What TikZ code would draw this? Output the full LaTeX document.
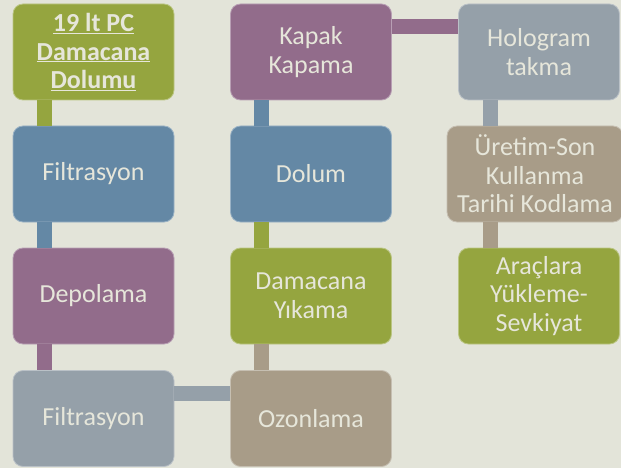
\documentclass[tikz,border=0pt]{standalone}
\usepackage{fontspec}
\setmainfont{Carlito}
\usetikzlibrary{calc}
\definecolor{bg}{HTML}{E3E4D9}
\definecolor{cgreen}{HTML}{95A53F}
\definecolor{cblue}{HTML}{6488A5}
\definecolor{cpurple}{HTML}{926C8B}
\definecolor{cgray}{HTML}{95A0A9}
\definecolor{ctaupe}{HTML}{A89C88}
\definecolor{txt}{HTML}{E6E6DA}
\tikzset{
  box/.style={rectangle, rounded corners=10pt, minimum width=161pt, minimum height=96pt,
    inner sep=2pt, align=center, text=txt, fill=#1, draw=white!35!#1, line width=0.8pt,
    font=\fontsize{26}{28.5}\selectfont},
  conn/.style={draw=#1, line width=15pt, line cap=butt}
}
\begin{document}
\begin{tikzpicture}[x=1pt,y=-1pt]
\fill[bg] (0,0) rectangle (621,468);
\useasboundingbox (0,0) rectangle (621,468);
% column 1
\node[box=cgreen] (a) at (93.5,52) {\textbf{\underline{19 lt PC}}\\\textbf{\underline{Damacana}}\\\textbf{\underline{Dolumu}}};
\node[box=cblue] (b) at (93.5,174) {Filtrasyon};
\node[box=cpurple] (c) at (93.5,296) {Depolama};
\node[box=cgray] (d) at (93.5,418.5) {Filtrasyon};
% column 2
\node[box=ctaupe] (e) at (311,418.5) {Ozonlama};
\node[box=cgreen] (f) at (311,296) {Damacana\\Yıkama};
\node[box=cblue] (g) at (311,174) {Dolum};
\node[box=cpurple] (h) at (311,52) {Kapak\\Kapama};
% column 3
\node[box=cgray] (i) at (539,52) {Hologram\\takma};
\node[box=ctaupe, minimum width=176pt] (j) at (535,174) {Üretim-Son\\Kullanma\\Tarihi Kodlama};
\node[box=cgreen] (k) at (539,296) {Araçlara\\Yükleme-\\Sevkiyat};
% connectors
\draw[conn=cgreen] ([xshift=31.5pt]a.south west) -- ([xshift=31.5pt]a.south west |- b.north);
\draw[conn=cblue] ([xshift=31.5pt]b.south west) -- ([xshift=31.5pt]b.south west |- c.north);
\draw[conn=cpurple] ([xshift=31.5pt]c.south west) -- ([xshift=31.5pt]c.south west |- d.north);
\draw[conn=cgray] ([yshift=-23.5pt]d.north east) -- ([yshift=-23.5pt]d.north east -| e.west);
\draw[conn=ctaupe] ([xshift=31.5pt]e.north west) -- ([xshift=31.5pt]e.north west |- f.south);
\draw[conn=cgreen] ([xshift=31.5pt]f.north west) -- ([xshift=31.5pt]f.north west |- g.south);
\draw[conn=cblue] ([xshift=31.5pt]g.north west) -- ([xshift=31.5pt]g.north west |- h.south);
\draw[conn=cpurple] ([yshift=-23pt]h.north east) -- ([yshift=-23pt]h.north east -| i.west);
\draw[conn=cgray] ([xshift=32.5pt]i.south west) -- ([xshift=32.5pt]i.south west |- j.north);
\draw[conn=ctaupe] ([xshift=32.5pt]k.north west |- j.south) -- ([xshift=32.5pt]k.north west);
\end{tikzpicture}
\end{document}
